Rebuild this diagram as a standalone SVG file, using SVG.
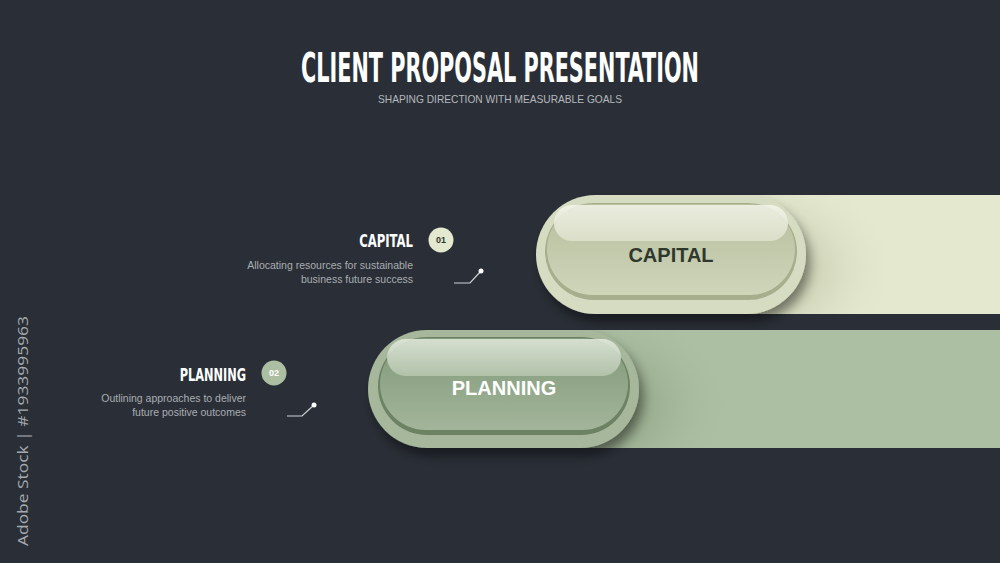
<svg xmlns="http://www.w3.org/2000/svg" width="1000" height="563" viewBox="0 0 1000 563">
<style>
.title{font-family:"DejaVu Sans Condensed","Liberation Sans",sans-serif;font-weight:bold;fill:#ffffff}
.sub{font-family:"Liberation Sans",Arial,sans-serif;font-size:10.5px;fill:#b4b8bc}
.head{font-family:"DejaVu Sans Condensed","Liberation Sans",sans-serif;font-weight:bold;font-size:18px;fill:#ffffff;text-anchor:end}
.desc{font-family:"Liberation Sans",Arial,sans-serif;font-size:10.5px;fill:#a9adb2;text-anchor:end}
.badge{font-family:"Liberation Sans",Arial,sans-serif;font-size:9px;font-weight:bold;text-anchor:middle}
.pilltxt{font-family:"Liberation Sans",Arial,sans-serif;font-weight:bold;font-size:20px;text-anchor:middle}
.conn{fill:none;stroke:#cfd2d6;stroke-width:1.2}
</style>
<defs>
<radialGradient id="capShade" cx="0.3" cy="0.55" r="0.7">
<stop offset="0" stop-color="#b4bb99"/>
<stop offset="0.4" stop-color="#ccd2b5"/>
<stop offset="1" stop-color="#e3e8cf" stop-opacity="0"/>
</radialGradient>
<radialGradient id="plnShade" cx="0.3" cy="0.55" r="0.7">
<stop offset="0" stop-color="#7a9071"/>
<stop offset="0.4" stop-color="#96aa8c"/>
<stop offset="1" stop-color="#adbfa3" stop-opacity="0"/>
</radialGradient>
<linearGradient id="capHi" x1="0" y1="0" x2="0" y2="1">
<stop offset="0" stop-color="#f3f5ea"/>
<stop offset="1" stop-color="#dfe3cd"/>
</linearGradient>
<linearGradient id="capLo" x1="0" y1="0" x2="0" y2="1">
<stop offset="0" stop-color="#b7be9e"/>
<stop offset="1" stop-color="#cfd5b9"/>
</linearGradient>
<linearGradient id="plnHi" x1="0" y1="0" x2="0" y2="1">
<stop offset="0" stop-color="#e4ebdf"/>
<stop offset="1" stop-color="#b8c7b0"/>
</linearGradient>
<linearGradient id="plnLo" x1="0" y1="0" x2="0" y2="1">
<stop offset="0" stop-color="#809978"/>
<stop offset="1" stop-color="#a3b59a"/>
</linearGradient>
<filter id="shadow" x="-20%" y="-20%" width="140%" height="150%">
<feGaussianBlur in="SourceAlpha" stdDeviation="6"/>
<feOffset dx="4" dy="8"/>
<feComponentTransfer><feFuncA type="linear" slope="0.45"/></feComponentTransfer>
<feMerge><feMergeNode/><feMergeNode in="SourceGraphic"/></feMerge>
</filter>
<clipPath id="capClip"><rect x="600" y="195" width="400" height="119"/></clipPath>
<clipPath id="plnClip"><rect x="430" y="330" width="570" height="118"/></clipPath>
</defs>
<rect width="1000" height="563" fill="#2a2f37"/>

<g id="header">
<text class="title" x="500" y="82" font-size="40" text-anchor="middle" textLength="398" lengthAdjust="spacingAndGlyphs">CLIENT PROPOSAL PRESENTATION</text>
<text class="sub" x="500" y="103" text-anchor="middle" textLength="244" lengthAdjust="spacingAndGlyphs">SHAPING DIRECTION WITH MEASURABLE GOALS</text>
</g>

<text x="28" y="546" transform="rotate(-90 28 546)" font-family="'Open Sans','Liberation Sans',sans-serif" font-size="15" fill="#a6aaaf" textLength="230" lengthAdjust="spacingAndGlyphs">Adobe Stock | #1933995963</text>

<g id="capital-bar">
<rect x="600" y="195" width="400" height="119" fill="#e3e8cf"/>
<ellipse cx="790" cy="262" rx="110" ry="75" fill="url(#capShade)" clip-path="url(#capClip)"/>
<g filter="url(#shadow)">
<rect x="536" y="195" width="270" height="119" rx="59.5" fill="#d6dcc2"/>
</g>
<rect x="545" y="203" width="252" height="97" rx="48.5" fill="#a7ae8e"/>
<rect x="547" y="204" width="248" height="91" rx="45.5" fill="url(#capLo)"/>
<rect x="554" y="205" width="234" height="36" rx="18" fill="url(#capHi)" opacity="0.85"/>
<text class="pilltxt" x="671" y="262" fill="#2f382c">CAPITAL</text>
</g>

<g id="planning-bar">
<rect x="430" y="330" width="570" height="118" fill="#adbfa3"/>
<ellipse cx="620" cy="397" rx="115" ry="75" fill="url(#plnShade)" clip-path="url(#plnClip)"/>
<g filter="url(#shadow)">
<rect x="368" y="330" width="271" height="118" rx="59" fill="#a6b79c"/>
</g>
<rect x="378" y="337" width="252" height="98" rx="49" fill="#6c8263"/>
<rect x="380" y="338" width="248" height="92" rx="46" fill="url(#plnLo)"/>
<rect x="387" y="339" width="234" height="37" rx="18.5" fill="url(#plnHi)" opacity="0.85"/>
<text class="pilltxt" x="504" y="395" fill="#ffffff">PLANNING</text>
</g>

<g id="capital-label">
<text class="head" transform="translate(413 247) scale(0.72 1)" x="0" y="0">CAPITAL</text>
<circle cx="441" cy="240" r="12.5" fill="#e3e8cf"/>
<text class="badge" x="441" y="243" fill="#2f382c">01</text>
<text class="desc" x="413" y="269">Allocating resources for sustainable</text>
<text class="desc" x="413" y="283">business future success</text>
</g>

<g id="planning-label">
<text class="head" transform="translate(246 381) scale(0.7 1)" x="0" y="0">PLANNING</text>
<circle cx="274" cy="373" r="12.5" fill="#adbfa3"/>
<text class="badge" x="274" y="376" fill="#ffffff">02</text>
<text class="desc" x="246" y="402">Outlining approaches to deliver</text>
<text class="desc" x="246" y="416">future positive outcomes</text>
</g>

<g id="connectors">
<polyline class="conn" points="454,283 470,283 481,271"/>
<circle cx="481" cy="271" r="2.5" fill="#ffffff"/>
<polyline class="conn" points="287,416 302,416 314,405"/>
<circle cx="314" cy="405" r="2.5" fill="#ffffff"/>
</g>
</svg>
